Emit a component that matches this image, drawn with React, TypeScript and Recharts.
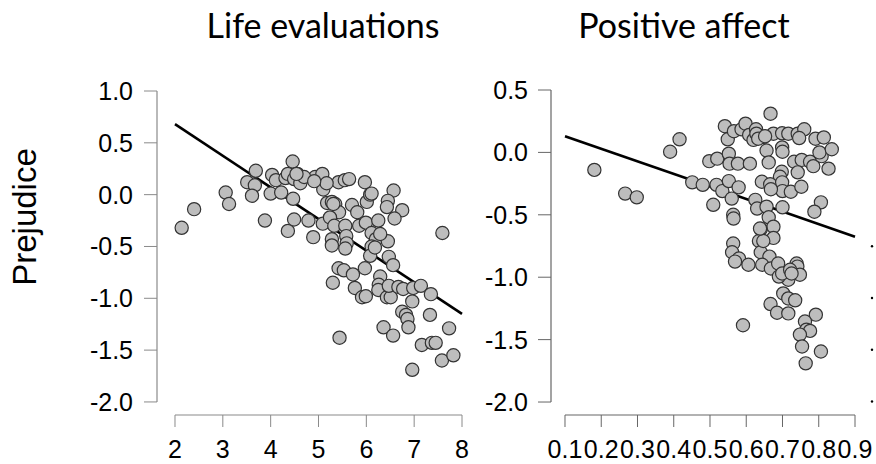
import React from "react";
import { ScatterChart, Scatter, XAxis, YAxis, ReferenceLine } from "recharts";

// ---------- Data ----------
const lifeX = [
  2.14, 2.4, 3.06, 3.13, 3.88, 3.51, 3.69, 3.67, 3.61, 4.0, 4.03, 4.11, 4.22, 4.31, 4.36, 4.46, 4.47, 4.49, 4.56, 4.62,
  4.36, 4.49, 4.79, 4.89, 4.89, 4.93, 5.08, 5.1, 5.18, 5.09, 5.28, 5.35, 5.43, 5.42, 5.55, 5.64, 5.24, 5.33, 5.28, 5.28,
  5.56, 5.58, 5.59, 5.56, 5.42, 5.53, 5.3, 5.44, 5.7, 5.81, 5.97, 5.85, 5.99, 6.01, 6.08, 6.11, 6.25, 6.2, 6.11, 6.08,
  6.45, 6.47, 6.56, 5.97, 5.72, 5.76, 5.91, 5.99, 6.29, 6.26, 6.25, 6.43, 6.51, 6.47, 6.67, 6.77, 6.98, 7.14, 6.96, 7.35,
  6.75, 6.83, 6.86, 6.88, 6.36, 6.56, 7.33, 7.73, 7.16, 7.37, 7.45, 7.58, 7.82, 6.96, 7.59, 6.57, 6.45, 6.43, 6.75, 6.59,
  5.17, 6.11, 4.7, 4.91, 6.29, 6.18, 5.31, 4.54,
];
const lifeY = [
  -0.32, -0.14, 0.02, -0.09, -0.25, 0.12, 0.23, 0.09, -0.01, 0.01, 0.19, 0.14, 0.02, 0.16, 0.2, 0.32, -0.04, 0.15, 0.2, 0.11,
  -0.35, -0.24, -0.25, -0.41, 0.15, 0.17, 0.2, 0.05, -0.08, -0.28, -0.07, -0.09, -0.17, 0.12, 0.14, 0.15, -0.22, -0.3, -0.43, -0.49,
  -0.3, -0.4, -0.47, -0.52, -0.71, -0.73, -0.85, -1.38, -0.1, -0.17, 0.12, -0.3, -0.27, -0.07, 0.0, -0.37, -0.25, -0.43, -0.5, -0.59,
  -0.45, -0.6, -0.68, -0.71, -0.77, -0.9, -0.99, -0.98, -0.79, -0.87, -0.92, -0.99, -0.99, -0.88, -0.89, -0.91, -0.9, -0.88, -1.03, -0.96,
  -1.13, -1.16, -1.2, -1.28, -1.28, -1.36, -1.16, -1.29, -1.45, -1.43, -1.43, -1.6, -1.55, -1.69, -0.37, 0.04, -0.06, -0.12, -0.15, -0.23,
  0.11, 0.01, 0.17, 0.13, -0.38, -0.51, -0.09, 0.2,
];

const affectX = [
  0.181, 0.266, 0.298, 0.39, 0.416, 0.451, 0.48, 0.509, 0.498, 0.52, 0.518, 0.534, 0.552, 0.56, 0.579, 0.564, 0.565, 0.541, 0.549, 0.566,
  0.587, 0.598, 0.608, 0.62, 0.627, 0.649, 0.667, 0.675, 0.656, 0.662, 0.552, 0.554, 0.577, 0.61, 0.699, 0.716, 0.742, 0.76, 0.746, 0.699,
  0.7, 0.732, 0.753, 0.776, 0.785, 0.791, 0.814, 0.808, 0.802, 0.836, 0.827, 0.742, 0.698, 0.693, 0.643, 0.666, 0.699, 0.7, 0.723, 0.752,
  0.806, 0.788, 0.625, 0.63, 0.656, 0.7, 0.662, 0.675, 0.64, 0.635, 0.675, 0.64, 0.664, 0.644, 0.668, 0.688, 0.564, 0.561, 0.58, 0.569,
  0.606, 0.739, 0.741, 0.748, 0.716, 0.69, 0.699, 0.702, 0.716, 0.735, 0.667, 0.685, 0.716, 0.591, 0.792, 0.762, 0.766, 0.776, 0.748, 0.754,
  0.806, 0.764, 0.721, 0.628, 0.633, 0.652, 0.647, 0.638, 0.668, 0.725,
];
const affectY = [
  -0.14, -0.33, -0.36, 0.005, 0.105, -0.24, -0.26, -0.42, -0.07, -0.05, -0.26, -0.31, -0.23, -0.37, -0.28, -0.5, -0.53, 0.21, 0.105, 0.17,
  0.185, 0.23, 0.14, 0.1, 0.185, 0.125, 0.31, 0.15, 0.015, -0.08, -0.01, -0.09, -0.09, -0.09, 0.153, 0.15, 0.15, 0.185, 0.115, 0.04,
  0.005, -0.075, -0.06, -0.075, -0.11, 0.11, 0.12, -0.03, 0.0, 0.025, -0.13, -0.16, -0.155, -0.195, -0.235, -0.255, -0.24, -0.31, -0.315, -0.275,
  -0.4, -0.475, -0.38, -0.45, -0.435, -0.44, -0.52, -0.595, -0.615, -0.71, -0.685, -0.8, -0.835, -0.9, -0.93, -0.89, -0.73, -0.8, -0.85, -0.875,
  -0.9, -0.89, -0.915, -0.98, -1.02, -0.995, -0.97, -1.13, -1.17, -1.185, -1.215, -1.285, -1.29, -1.385, -1.3, -1.355, -1.42, -1.43, -1.46, -1.555,
  -1.595, -1.69, -0.94, 0.15, 0.11, 0.13, -0.71, -0.61, -0.295, -0.97,
];

// regression line end points
const lifeLineX = [2, 8];
const lifeLineY = [0.68, -1.15];
const affectLineX = [0.1, 0.9];
const affectLineY = [0.13, -0.675];

// tick labels
const lifeXTicks = [2, 3, 4, 5, 6, 7, 8];
const lifeYTicks = [-2, -1.5, -1, -0.5, 0, 0.5, 1];
const affectXTicks = [0.1, 0.2, 0.3, 0.4, 0.5, 0.6, 0.7, 0.8, 0.9];
const affectYTicks = [-2, -1.5, -1, -0.5, 0, 0.5];

const titles = ["Life evaluations", "Positive affect"];
const yLabel = "Prejudice";
const edgeDotTicks = [-0.5, -1, -1.5, -2];

// ---------- Helpers ----------
const lifeData = lifeX.map((x, i) => ({ x, y: lifeY[i] }));
const affectData = affectX.map((x, i) => ({ x, y: affectY[i] }));

const FONT = "Liberation Sans";
const TICK_FS = 25;

const Dot = (props: any) => {
  const { cx, cy } = props;
  if (cx == null || cy == null) return <g />;
  return <circle cx={cx} cy={cy} r={6.6} fill="#bdbdbd" stroke="#333" strokeWidth={1.2} />;
};

const fmt1 = (v: number) => v.toFixed(1);

const XTickInt = (p: any) => (
  <text x={p.x} y={p.y + 18} textAnchor="middle" fontSize={TICK_FS} fontFamily={FONT} fill="#000">
    {String(p.payload.value)}
  </text>
);
const XTick1 = (p: any) => (
  <text x={p.x} y={p.y + 18} textAnchor="middle" fontSize={TICK_FS} fontFamily={FONT} fill="#000">
    {fmt1(p.payload.value)}
  </text>
);
const YTick1 = (p: any) => (
  <text x={p.x} y={p.y + 9} textAnchor="end" fontSize={TICK_FS} fontFamily={FONT} fill="#000">
    {fmt1(p.payload.value)}
  </text>
);

export default function App() {
  // Left panel geometry: plot 157..462 x, 91..415 y
  const lXmin = 1.624;
  const lYmin = -2.126;
  // Right panel geometry: plot 551..855 x, 90..415 y
  const rXmin = 0.0614;
  const rYmin = -2.104;

  return (
    <div style={{ position: "absolute", left: 0, top: 0, width: 876, height: 464, background: "#fff", overflow: "hidden" }}>
      <div style={{ position: "absolute", left: 0, top: 0 }}>
        <ScatterChart width={480} height={464} margin={{ top: 91, right: 18, left: 0, bottom: 0 }}>
          <XAxis
            type="number"
            dataKey="x"
            domain={[lXmin, 8]}
            allowDataOverflow
            ticks={lifeXTicks}
            interval={0}
            axisLine={false}
            tickLine={{ stroke: "#8a8a8a" }}
            tickSize={12}
            tickMargin={13}
            height={49}
            tick={XTickInt}
          />
          <YAxis
            type="number"
            dataKey="y"
            domain={[lYmin, 1]}
            allowDataOverflow
            ticks={lifeYTicks}
            interval={0}
            axisLine={false}
            tickLine={{ stroke: "#8a8a8a" }}
            tickSize={13}
            tickMargin={11}
            width={157}
            tick={YTick1}
          />
          <ReferenceLine
            segment={[{ x: lXmin, y: lifeYTicks[0] }, { x: lXmin, y: lifeYTicks[lifeYTicks.length - 1] }]}
            stroke="#8a8a8a"
            strokeWidth={1.2}
            ifOverflow="visible"
          />
          <ReferenceLine
            segment={[{ x: lifeXTicks[0], y: lYmin }, { x: lifeXTicks[lifeXTicks.length - 1], y: lYmin }]}
            stroke="#8a8a8a"
            strokeWidth={1.2}
            ifOverflow="visible"
          />
          <Scatter data={lifeData} shape={Dot} isAnimationActive={false} />
          <ReferenceLine
            segment={[{ x: lifeLineX[0], y: lifeLineY[0] }, { x: lifeLineX[1], y: lifeLineY[1] }]}
            stroke="#000"
            strokeWidth={2.6}
            ifOverflow="visible"
          />
        </ScatterChart>
      </div>
      <div style={{ position: "absolute", left: 400, top: 0 }}>
        <ScatterChart width={476} height={464} margin={{ top: 90, right: 21, left: 0, bottom: 0 }}>
          <XAxis
            type="number"
            dataKey="x"
            domain={[rXmin, 0.9]}
            allowDataOverflow
            ticks={affectXTicks}
            interval={0}
            axisLine={false}
            tickLine={{ stroke: "#666" }}
            tickSize={12}
            tickMargin={13}
            height={49}
            tick={XTick1}
          />
          <YAxis
            type="number"
            dataKey="y"
            domain={[rYmin, 0.5]}
            allowDataOverflow
            ticks={affectYTicks}
            interval={0}
            axisLine={false}
            tickLine={{ stroke: "#666" }}
            tickSize={13}
            tickMargin={10}
            width={151}
            tick={YTick1}
          />
          <ReferenceLine
            segment={[{ x: rXmin, y: affectYTicks[0] }, { x: rXmin, y: affectYTicks[affectYTicks.length - 1] }]}
            stroke="#666"
            strokeWidth={1.2}
            ifOverflow="visible"
          />
          <ReferenceLine
            segment={[{ x: affectXTicks[0], y: rYmin }, { x: affectXTicks[affectXTicks.length - 1], y: rYmin }]}
            stroke="#666"
            strokeWidth={1.2}
            ifOverflow="visible"
          />
          <Scatter data={affectData} shape={Dot} isAnimationActive={false} />
          <ReferenceLine
            segment={[{ x: affectLineX[0], y: affectLineY[0] }, { x: affectLineX[1], y: affectLineY[1] }]}
            stroke="#000"
            strokeWidth={2.6}
            ifOverflow="visible"
          />
        </ScatterChart>
      </div>
      <svg width={876} height={464} style={{ position: "absolute", left: 0, top: 0, pointerEvents: "none" }}>
        <text x={323} y={38} textAnchor="middle" fontSize={34} fontFamily="Lato" fill="#000">
          {titles[0]}
        </text>
        <text x={684} y={38} textAnchor="middle" fontSize={34} fontFamily="Lato" fill="#000">
          {titles[1]}
        </text>
        <text
          x={36}
          y={217}
          transform="rotate(-90 36 217)"
          textAnchor="middle"
          fontSize={33}
          fontFamily={FONT}
          fill="#000"
        >
          {yLabel}
        </text>
        {edgeDotTicks.map((t) => (
          <circle key={t} cx={872} cy={91 + (1 - t) * 103.5} r={1.2} fill="#000" />
        ))}
      </svg>
    </div>
  );
}
